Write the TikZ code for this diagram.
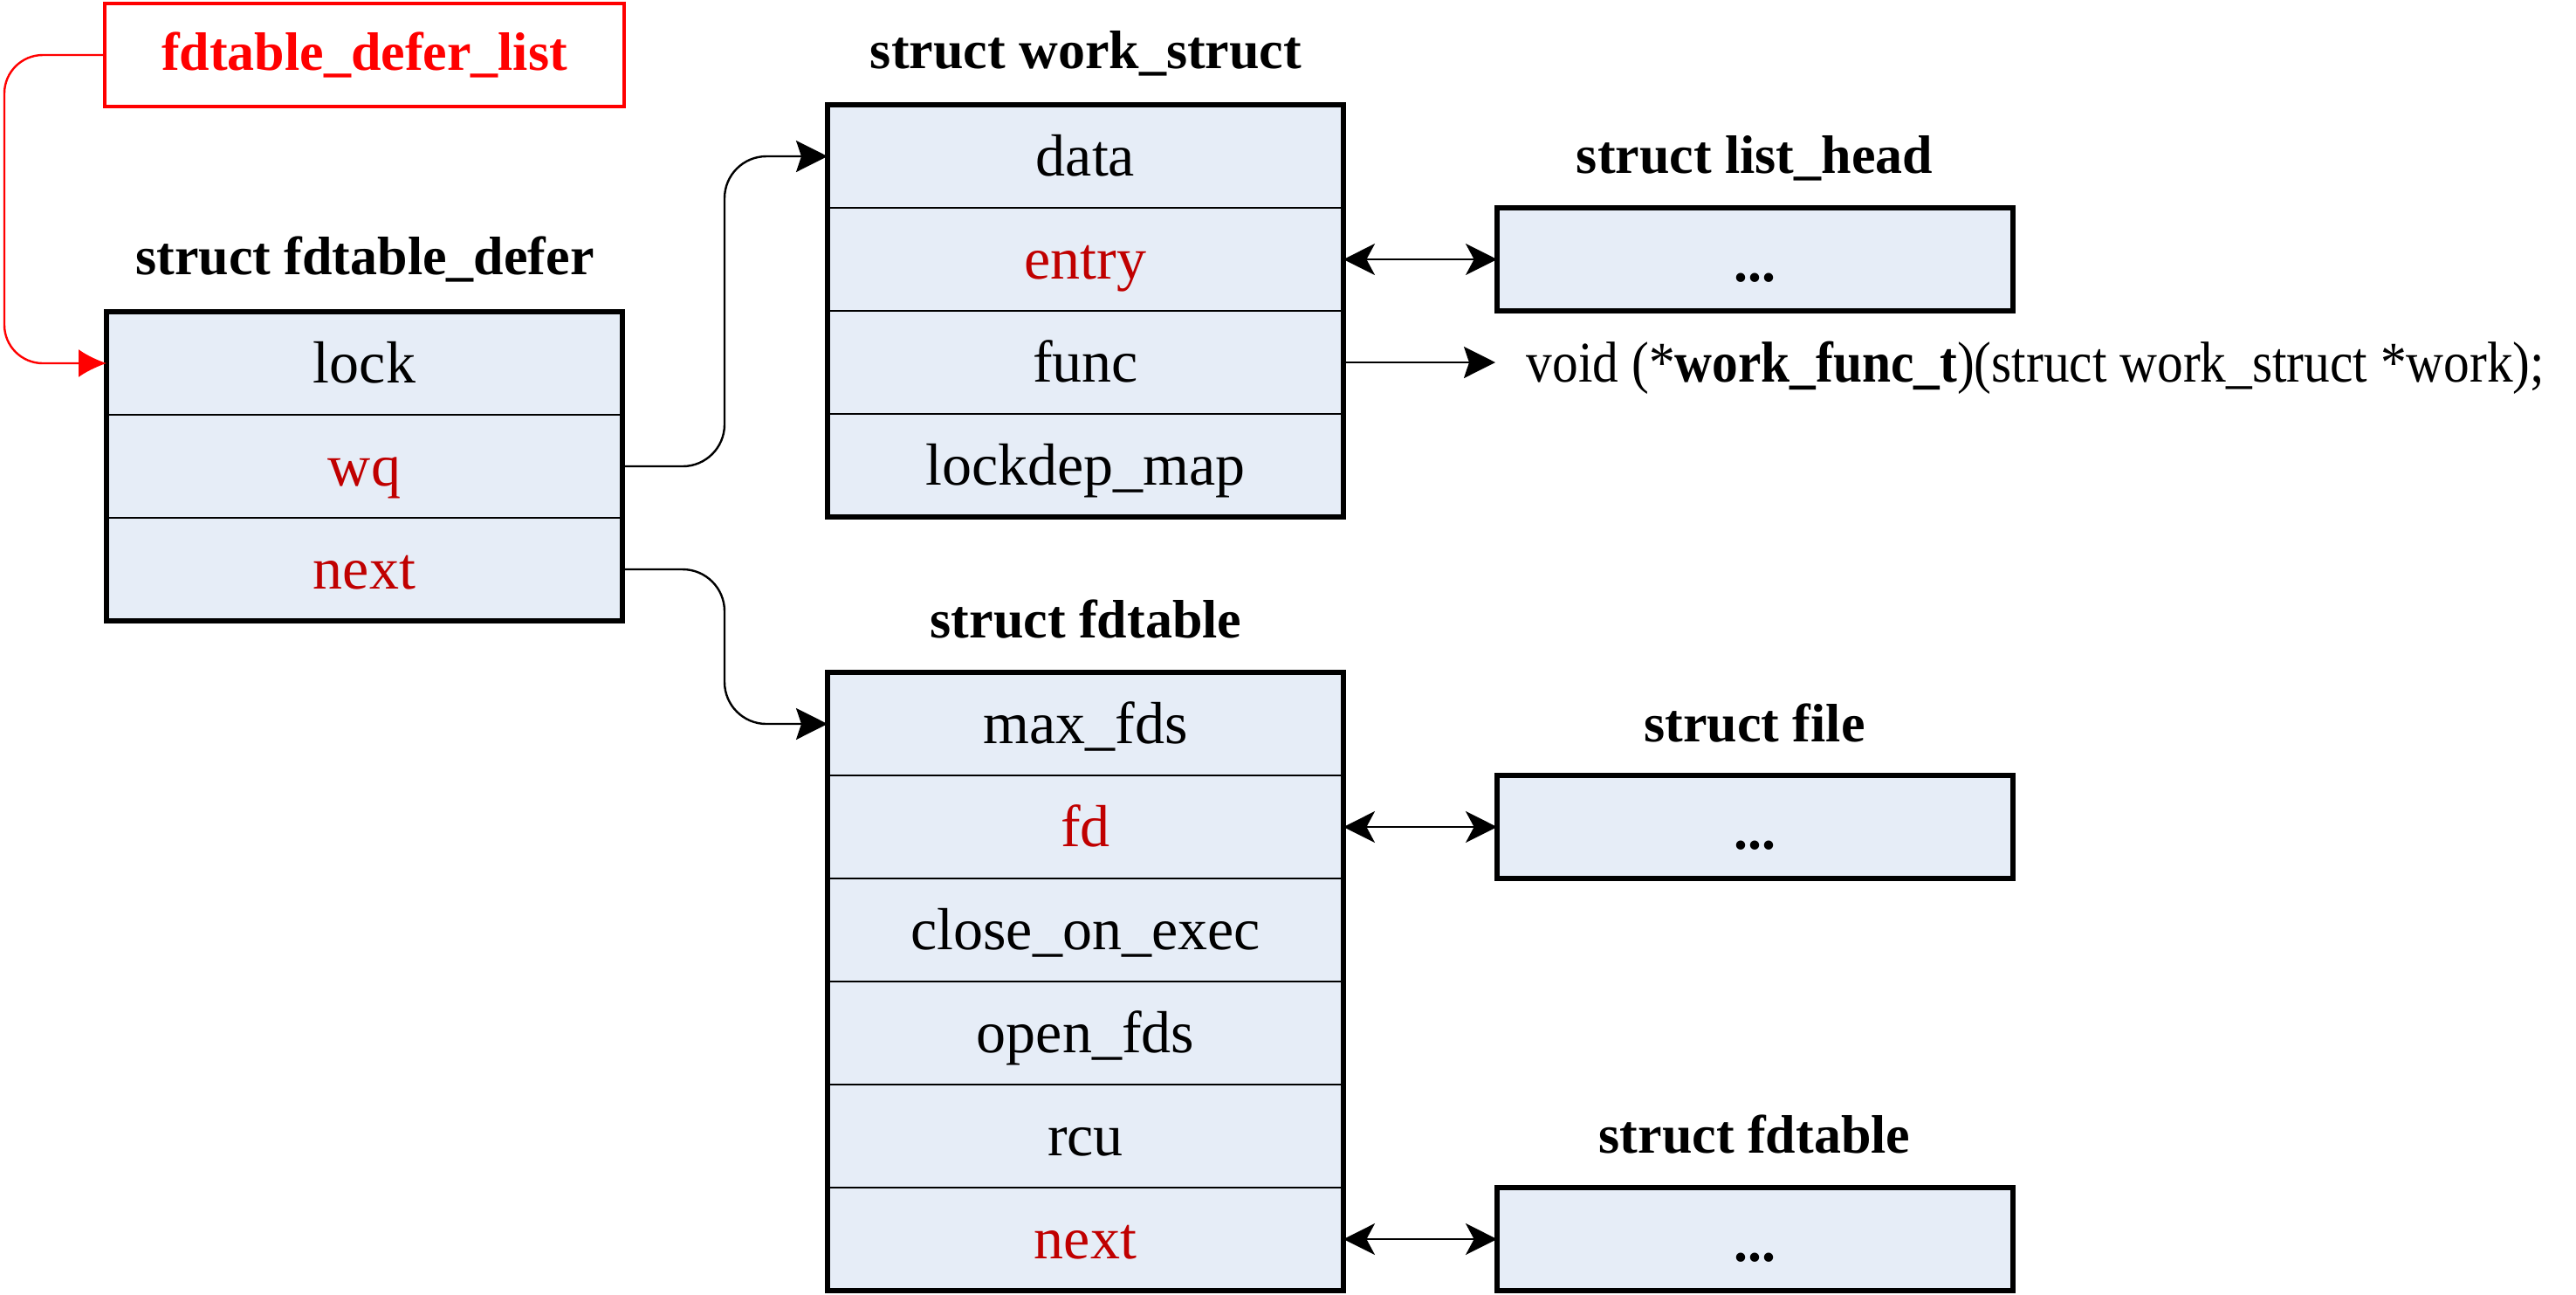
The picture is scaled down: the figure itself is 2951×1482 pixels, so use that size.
\documentclass[tikz,border=0pt]{standalone}
\usepackage{fontspec}
\setmainfont{Liberation Serif}
\newfontfamily\narrowfont[FakeStretch=0.9]{Liberation Serif}
\usetikzlibrary{arrows.meta}
\definecolor{fieldfill}{HTML}{E6EDF7}
\definecolor{fieldred}{HTML}{C00000}
\definecolor{listred}{HTML}{FF0000}
\tikzset{
  field/.style={draw, line width=0.5pt, fill=fieldfill, minimum width=147.75pt,
    minimum height=29.5pt, inner sep=0pt, outer sep=0pt, anchor=north west,
    text height=13pt, text depth=1.8pt,
    font=\fontsize{17}{20}\selectfont},
  redfield/.style={field, text=fieldred},
  outerbox/.style={line width=1.3pt, line join=miter},
  single/.style={field, line width=1.3pt, text depth=0.5pt, font=\fontsize{16}{20}\selectfont\bfseries},
  title/.style={font=\fontsize{15.5}{18}\selectfont\bfseries, inner sep=0pt},
  conn/.style={line width=0.6pt, -{Stealth[length=9pt,width=9pt,inset=1.5pt]}, rounded corners=12pt},
  dconn/.style={line width=0.6pt, {Stealth[length=9pt,width=9pt,inset=2.4pt]}-{Stealth[length=9pt,width=9pt,inset=2.4pt]}},
  redconn/.style={draw=listred, line width=0.6pt, -{Latex[length=8pt,width=8pt]}, rounded corners=11pt, color=listred},
}
\begin{document}
\begin{tikzpicture}[x=0.25pt,y=-0.25pt]
\useasboundingbox (0,0) rectangle (2951,1482);

% fdtable_defer_list
\node[draw=listred, line width=1pt, minimum width=148.75pt, minimum height=29.5pt,
  inner sep=0pt, outer sep=0pt, anchor=north west, text=listred,
  font=\fontsize{15.5}{18}\selectfont\bfseries] (dlist) at (120,4) {fdtable\_defer\_list};

% struct fdtable_defer
\node[title] (tdefer) at (418,297) {struct fdtable\_defer};
\node[field] (dlock) at (122,357) {lock};
\node[redfield] (dwq) at (dlock.south west) {wq};
\node[redfield] (dnext) at (dwq.south west) {next};
\draw[outerbox] (dlock.north west) rectangle (dnext.south east);

% struct work_struct
\node[title] (twork) at (1244,61) {struct work\_struct};
\node[field] (wdata) at (948,120) {data};
\node[redfield] (wentry) at (wdata.south west) {entry};
\node[field] (wfunc) at (wentry.south west) {func};
\node[field] (wmap) at (wfunc.south west) {lockdep\_map};
\draw[outerbox] (wdata.north west) rectangle (wmap.south east);

% struct list_head
\node[title] (tlist) at (2010,181) {struct list\_head};
\node[single] (lh) at ([xshift=44pt]wentry.north east) {...};

% function pointer
\node[anchor=west, inner ysep=0pt, inner xsep=8.75pt, text height=13pt, text depth=1.8pt,
  font=\fontsize{16.5}{20}\narrowfont] (vfunc) at ([xshift=43.5pt]wfunc.east)
  {void (*\textbf{work\_func\_t})(struct work\_struct *work);};

% struct fdtable
\node[title] (tfdt) at (1244,709) {struct fdtable};
\node[field] (tmax) at (948,770) {max\_fds};
\node[redfield] (tfd) at (tmax.south west) {fd};
\node[field] (tclose) at (tfd.south west) {close\_on\_exec};
\node[field] (topen) at (tclose.south west) {open\_fds};
\node[field] (trcu) at (topen.south west) {rcu};
\node[redfield] (tnext) at (trcu.south west) {next};
\draw[outerbox] (tmax.north west) rectangle (tnext.south east);

% struct file
\node[title] (tfile) at (2010,828) {struct file};
\node[single] (file) at ([xshift=44pt]tfd.north east) {...};

% struct fdtable (next)
\node[title] (tfdt2) at (2010,1299) {struct fdtable};
\node[single] (fdt2) at ([xshift=44pt]tnext.north east) {...};

% connectors
\draw[redconn] (dlist.west) -- ++(-115,0) |- (dlock.west);
\draw[conn] (dwq.east) -- ++(117,0) |- (wdata.west);
\draw[conn] (dnext.east) -- ++(117,0) |- (tmax.west);
\draw[dconn] (wentry.east) -- (lh.west);
\draw[conn] (wfunc.east) -- (vfunc.west);
\draw[dconn] (tfd.east) -- (file.west);
\draw[dconn] (tnext.east) -- (fdt2.west);
\end{tikzpicture}
\end{document}
